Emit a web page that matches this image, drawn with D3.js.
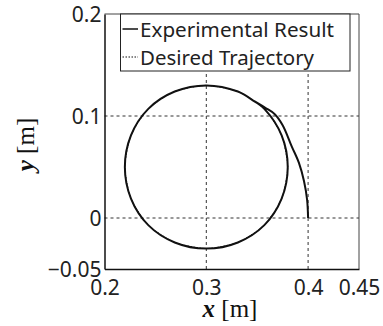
<!DOCTYPE html>
<html>
<head>
<meta charset="utf-8">
<script src="https://cdn.jsdelivr.net/npm/d3@7"></script>
<style>
  body { margin: 0; background: #fff; }
  svg { display: block; }
</style>
</head>
<body>
<div id="chart"></div>
<script>
// desired circle (centre 0.3, 0.05)
const desiredX = [0.380, 0.374, 0.357, 0.331, 0.300, 0.269, 0.243, 0.226, 0.220, 0.226, 0.243, 0.269, 0.300, 0.331, 0.357, 0.374];
const desiredY = [0.050, 0.081, 0.107, 0.124, 0.130, 0.124, 0.107, 0.081, 0.050, 0.019, -0.007, -0.024, -0.030, -0.024, -0.007, 0.019];
// experimental result: approach from (0.4, 0) then one lap
const expX = [0.400, 0.399, 0.396, 0.391, 0.384, 0.375, 0.367, 0.358, 0.348, 0.331, 0.300, 0.269, 0.243, 0.226, 0.220, 0.226, 0.243, 0.269, 0.300, 0.331, 0.357, 0.374, 0.380, 0.374, 0.357, 0.346];
const expY = [0.000, 0.018, 0.036, 0.054, 0.070, 0.091, 0.102, 0.108, 0.114, 0.124, 0.130, 0.124, 0.107, 0.081, 0.050, 0.019, -0.007, -0.024, -0.030, -0.024, -0.007, 0.019, 0.050, 0.081, 0.107, 0.115];
const xTicks = [0.2, 0.3, 0.4, 0.45];
const yTicks = [-0.05, 0, 0.1, 0.2];
const xGrid = [0.3, 0.4];
const yGrid = [0, 0.1];
const legendLabels = ["Experimental Result", "Desired Trajectory"];

const width = 383, height = 326;
const margin = {top: 14, right: 24, bottom: 57, left: 104.5};

const svg = d3.select("#chart").append("svg")
  .attr("width", width)
  .attr("height", height);

const x = d3.scaleLinear().domain([0.2, 0.45]).range([margin.left, width - margin.right]);
const y = d3.scaleLinear().domain([-0.05, 0.2]).range([height - margin.bottom, margin.top]);

// grid
svg.append("g").selectAll("line").data(xGrid).join("line")
  .attr("x1", d => x(d)).attr("x2", d => x(d))
  .attr("y1", y(-0.05)).attr("y2", y(0.2))
  .attr("stroke", "#333").attr("stroke-width", 1).attr("stroke-dasharray", "3,3");
svg.append("g").selectAll("line").data(yGrid).join("line")
  .attr("x1", x(0.2)).attr("x2", x(0.45))
  .attr("y1", d => y(d)).attr("y2", d => y(d))
  .attr("stroke", "#333").attr("stroke-width", 1).attr("stroke-dasharray", "3,3");

// top and right frame
svg.append("path")
  .attr("d", `M${x(0.2)},${y(0.2)}H${x(0.45)}V${y(-0.05)}`)
  .attr("fill", "none").attr("stroke", "#444").attr("stroke-width", 1);

// desired (dotted, under the experimental line)
const line = d3.line().x(d => x(d[0])).y(d => y(d[1]));
svg.append("path")
  .datum(d3.zip(desiredX, desiredY))
  .attr("fill", "none").attr("stroke", "#111").attr("stroke-width", 1)
  .attr("stroke-dasharray", "1.5,1.5")
  .attr("d", line.curve(d3.curveCardinalClosed.tension(0.33)));

svg.append("path")
  .datum(d3.zip(expX, expY))
  .attr("fill", "none").attr("stroke", "#111").attr("stroke-width", 2)
  .attr("d", d3.line().x(d => x(d[0])).y(d => y(d[1])).curve(d3.curveCatmullRom)(d3.zip(expX, expY)));

// axes (no tick marks)
const xAxis = d3.axisBottom(x).tickValues(xTicks).tickSize(0).tickPadding(11)
  .tickFormat(d => d3.format("")(d));
const yAxis = d3.axisLeft(y).tickValues(yTicks).tickSize(0).tickPadding(3)
  .tickFormat(d => d < 0 ? "\u2212" + Math.abs(d) : String(d));

const gx = svg.append("g").attr("transform", `translate(0,${y(-0.05)})`).call(xAxis);
const gy = svg.append("g").attr("transform", `translate(${x(0.2)},0)`).call(yAxis);
[gx, gy].forEach(g => {
  g.select(".domain").attr("stroke", "#111").attr("stroke-width", 1.5);
  g.selectAll("text").attr("font-family", "'Noto Sans', sans-serif").attr("font-size", 21).attr("fill", "#222");
});
gy.selectAll("text").attr("dy", "0.36em");

// axis titles
const xt = svg.append("text")
  .attr("x", 230).attr("y", 317)
  .attr("text-anchor", "middle")
  .attr("font-family", "'Liberation Serif', serif").attr("font-size", 25).attr("fill", "#111");
xt.append("tspan").attr("font-style", "italic").attr("font-weight", "bold").text("x");
xt.append("tspan").text(" [m]");

const yt = svg.append("text")
  .attr("transform", `translate(34,${(y(0.2) + y(-0.05)) / 2 + 3}) rotate(-90)`)
  .attr("text-anchor", "middle")
  .attr("font-family", "'Liberation Serif', serif").attr("font-size", 25).attr("fill", "#111");
yt.append("tspan").attr("font-style", "italic").attr("font-weight", "bold").text("y");
yt.append("tspan").text(" [m]");

// legend
const lg = svg.append("g");
lg.append("rect")
  .attr("x", 120.5).attr("y", y(0.2)).attr("width", 229.5).attr("height", 57)
  .attr("fill", "#fff").attr("stroke", "#222").attr("stroke-width", 1);
const legendWidths = [194, 174];
legendLabels.forEach((t, i) => {
  const ly = 29 + i * 28;
  lg.append("line")
    .attr("x1", 122.5).attr("x2", 138).attr("y1", ly).attr("y2", ly)
    .attr("stroke", "#111").attr("stroke-width", i === 0 ? 1.5 : 1)
    .attr("stroke-dasharray", i === 0 ? null : "1.5,1.5");
  lg.append("text")
    .attr("x", 140).attr("y", ly + 7.5)
    .attr("font-family", "'Noto Sans', sans-serif").attr("font-size", 19.5).attr("fill", "#222")
    .attr("textLength", legendWidths[i]).attr("lengthAdjust", "spacingAndGlyphs")
    .text(t);
});
</script>
</body>
</html>
